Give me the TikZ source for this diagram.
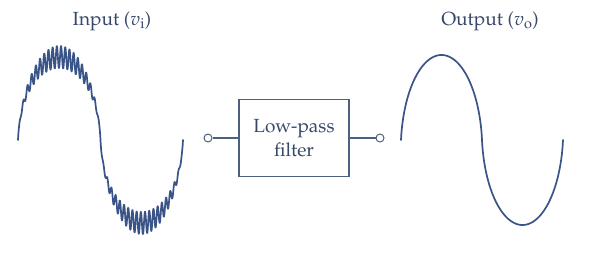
\documentclass[tikz,border=0pt]{standalone}
\usepackage[T1]{fontenc}
\usepackage{mathpazo}
\definecolor{wave}{RGB}{58,84,136}
\definecolor{ink}{RGB}{56,72,104}
\definecolor{frame}{RGB}{78,96,128}
\tikzset{
  signal/.style={draw=wave, line width=1.7pt, line join=round, line cap=round},
  filterbox/.style={draw=frame, line width=1.3pt, minimum width=110pt, minimum height=77pt,
    align=center, text=ink, font=\fontsize{19}{24}\selectfont},
  terminal/.style={draw=frame, line width=1pt, circle, fill=white, inner sep=0pt, minimum size=8pt},
  lead/.style={draw=frame, line width=1.3pt},
  caption/.style={text=ink, font=\fontsize{19}{22}\selectfont},
  declare function={
    % horizontal position along a rounded half-wave (mix of ellipse and linear)
    hw(\p) = 0.85*(1-cos(\p)) + 0.15*\p/90;
    % input signal, rising and falling halves
    upx(\p) = 18 + 41.25*hw(\p);
    dnx(\p) = 100.5 + 41.25*hw(\p-180);
    % ripple riding on the signal (period 4.2), fading towards the zero crossings
    rip(\p,\q) = 11*(abs(sin(\p))+0.001)^1.5*sin((\q-18)*85.714);
    % output signal halves
    oux(\p) = 401 + 40.5*hw(\p);
    odx(\p) = 482 + 40.5*hw(\p-180);
  }
}
\begin{document}
\begin{tikzpicture}[x=1pt, y=-1pt]
  \useasboundingbox (0,0) rectangle (591,270);
  \fill[white] (0,0) rectangle (591,270);

  % labels
  \node[caption] (inlabel) at (112,21) {Input ($v_{\mathrm{i}}$)};
  \node[caption] (outlabel) at (490,21) {Output ($v_{\mathrm{o}}$)};

  % input: rounded sine with superimposed high-frequency ripple
  \draw[signal] plot[domain=0:180, samples=1200, variable=\p]
      ({upx(\p)}, {140 - 83*sin(\p) - rip(\p,upx(\p))})
    -- plot[domain=180:360, samples=1200, variable=\p]
      ({dnx(\p)}, {140 - 83*sin(\p) - rip(\p,dnx(\p))});

  % output: clean rounded sine
  \draw[signal] plot[domain=0:180, samples=200, variable=\p]
      ({oux(\p)}, {140 - 85*sin(\p)})
    -- plot[domain=180:360, samples=200, variable=\p]
      ({odx(\p)}, {140 - 85*sin(\p)});

  % filter block with terminals
  \node[filterbox] (lpf) at (294,138) {Low-pass\\filter};
  \node[terminal] (tin) at (208,138) {};
  \node[terminal] (tout) at (380,138) {};
  \draw[lead] (tin) -- (lpf.west);
  \draw[lead] (lpf.east) -- (tout);
\end{tikzpicture}
\end{document}
